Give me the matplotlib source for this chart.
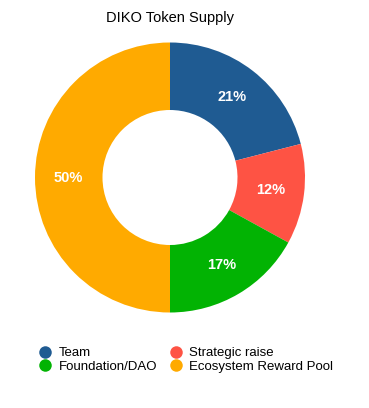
import matplotlib
matplotlib.use('Agg')
import matplotlib.pyplot as plt
import numpy as np
from matplotlib.lines import Line2D

plt.rcParams['font.family'] = ['Liberation Sans', 'DejaVu Sans']

labels = ['Team', 'Strategic raise', 'Foundation/DAO', 'Ecosystem Reward Pool']
shares = [21, 12, 17, 50]
colors = ['#1f5b92', '#fe5344', '#02b303', '#ffaa00']

fig = plt.figure(figsize=(3.69, 4.08), dpi=100)
ax = fig.add_axes([35/369, 1 - 312.5/408, 270/369, 270/408])

wedges, _ = ax.pie(shares, colors=colors, startangle=90, counterclock=False,
                   radius=1, wedgeprops=dict(width=0.5, linewidth=0))

# labels in the middle of the ring
start = 90
for s in shares:
    ang = np.deg2rad(start - s / 2 * 3.6)
    ax.text(0.75 * np.cos(ang), 0.75 * np.sin(ang), f'{s}%', ha='center', va='center',
            color='white', fontsize=10.5, fontweight='bold')
    start -= s * 3.6

ax.set_xlim(-1, 1)
ax.set_ylim(-1, 1)
ax.set_aspect('equal')
ax.axis('off')

fig.text(170/369, 1 - 18/408, 'DIKO Token Supply', ha='center', va='center', fontsize=10.5)

# legend, filled column by column
order = [0, 2, 1, 3]
handles = [Line2D([], [], marker='o', linestyle='', markersize=9, markerfacecolor=colors[i],
                  markeredgewidth=0) for i in order]
fig.legend(handles, [labels[i] for i in order], ncol=2, loc='upper left',
           bbox_to_anchor=(40/369, 1 - 347/408), frameon=False, fontsize=9.5,
           handlelength=0.8, handletextpad=0.6, columnspacing=1.05, labelspacing=0.1,
           borderaxespad=0, borderpad=0)

fig.savefig('out.png', dpi=100)
